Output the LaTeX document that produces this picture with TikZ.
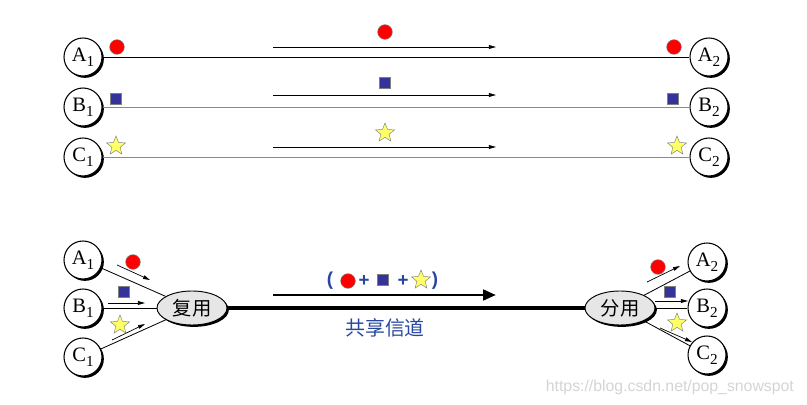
\documentclass[tikz,border=0pt]{standalone}
\usepackage{fontspec}
\setmainfont{Liberation Serif}
\setsansfont{Liberation Sans}
\newfontfamily\cjk{Noto Sans CJK SC}
\usepackage{tikz}
\usetikzlibrary{positioning}
\usetikzlibrary{arrows.meta}
\usetikzlibrary{shapes.geometric}
\usetikzlibrary{shadows}
\usepackage{xcolor}
\definecolor{sqblue}{HTML}{333399}
\definecolor{staryellow}{HTML}{FFFF66}
\definecolor{txtblue}{HTML}{2846A0}
\definecolor{linegray}{HTML}{8A8A8A}
\definecolor{muxgray}{HTML}{E6E6E6}
\newcommand{\hst}[2]{#1\raisebox{-0.5ex}{\fontsize{13}{13}\selectfont #2}}

\begin{document}
\begin{tikzpicture}[x=0.03cm, y=-0.03cm,
  host/.style={draw, circle, line width=0.9pt, fill=white, minimum size=1.14cm, inner sep=0pt,
    font=\fontsize{17.5}{19}\selectfont,
    drop shadow={shadow xshift=1.6pt, shadow yshift=-1.6pt, opacity=1, fill=black}},
  mux/.style={draw, ellipse, line width=0.8pt, fill=muxgray, minimum width=2.1cm, minimum height=1.02cm, inner sep=0pt,
    font=\cjk\fontsize{16.5}{18}\selectfont,
    drop shadow={shadow xshift=1.6pt, shadow yshift=-1.6pt, opacity=1, fill=black}},
  reddot/.style={circle, fill=red, draw=gray, line width=0.4pt, minimum size=0.44cm, inner sep=0pt},
  bluesq/.style={rectangle, fill=sqblue, draw=gray, line width=0.4pt, minimum size=0.34cm, inner sep=0pt},
  ystar/.style={star, star points=5, star point ratio=2.3, fill=staryellow, draw=gray, line width=0.4pt, minimum size=0.6cm, inner sep=0pt},
  link/.style={line width=0.7pt},
  flow/.style={-{Triangle[length=6pt,width=3.2pt]}, line width=0.6pt},
  plus/.style={text=txtblue, font=\sffamily\bfseries\fontsize{16}{18}\selectfont, inner sep=0pt},
]
  \useasboundingbox (0,0) rectangle (807,405);

  % top: one line for each pair
  \node[host] (a1) at (83,57) {\hst{A}{1}};
  \node[host] (b1) at (83,107) {\hst{B}{1}};
  \node[host] (c1) at (83,157) {\hst{C}{1}};
  \node[host] (a2) at (709,57) {\hst{A}{2}};
  \node[host] (b2) at (709,107) {\hst{B}{2}};
  \node[host] (c2) at (709,157) {\hst{C}{2}};
  \draw[link] (a1) -- (a2);
  \draw[link, linegray] (b1) -- (b2);
  \draw[link, linegray] (c1) -- (c2);

  \node[reddot] (ra1) at (117,47) {};
  \node[bluesq] (sb1) at (116,99) {};
  \node[ystar] (tc1) at (116,146) {};
  \node[reddot] (ra) at (385,32) {};
  \node[bluesq] (sb) at (385,83) {};
  \node[ystar] (tc) at (385,133) {};
  \node[reddot] (ra2) at (674,47) {};
  \node[bluesq] (sb2) at (673,99) {};
  \node[ystar] (tc2) at (677,146) {};

  \foreach \y/\n in {47/a, 95/b, 147/c} {
    \coordinate (f\n0) at (273,\y);
    \coordinate (f\n1) at (496,\y);
    \draw[flow] (f\n0) -- (f\n1);
  }

  % bottom: shared channel
  \node[host] (la1) at (83,260) {\hst{A}{1}};
  \node[host] (lb1) at (83,308) {\hst{B}{1}};
  \node[host] (lc1) at (83,357) {\hst{C}{1}};
  \node[mux] (mx) at (192,308) {复用};
  \node[mux] (dmx) at (620,308) {分用};
  \node[host] (la2) at (707,262) {\hst{A}{2}};
  \node[host] (lb2) at (707,308) {\hst{B}{2}};
  \node[host] (lc2) at (707,355) {\hst{C}{2}};

  \draw[link] (la1) -- (mx);
  \draw[link] (lb1) -- (mx);
  \draw[link] (lc1) -- (mx);
  \draw[link] (dmx) -- (la2);
  \draw[link] (dmx) -- (lb2);
  \draw[link] (dmx) -- (lc2);
  \draw[line width=3.4pt] (mx) -- (dmx);

  \coordinate (ia0) at (117,265); \coordinate (ia1) at (150,280);
  \coordinate (ib0) at (108,303); \coordinate (ib1) at (145,303);
  \coordinate (ic0) at (112,340); \coordinate (ic1) at (145,324);
  \coordinate (oa0) at (647,282); \coordinate (oa1) at (680,266);
  \coordinate (ob0) at (655,301); \coordinate (ob1) at (688,301);
  \coordinate (oc0) at (660,328); \coordinate (oc1) at (692,342);
  \draw[flow] (ia0) -- (ia1);
  \draw[flow] (ib0) -- (ib1);
  \draw[flow] (ic0) -- (ic1);
  \draw[flow] (oa0) -- (oa1);
  \draw[flow] (ob0) -- (ob1);
  \draw[flow] (oc0) -- (oc1);

  \node[reddot] (la1m) at (133,262) {};
  \node[bluesq] (lb1m) at (124,292) {};
  \node[ystar] (lc1m) at (120,325) {};
  \node[reddot] (la2m) at (658,267) {};
  \node[bluesq] (lb2m) at (670,292) {};
  \node[ystar] (lc2m) at (677,323) {};

  % mixed signal
  \node[plus] (lp) at (330,281) {(};
  \node[reddot] (pr) at (348,281) {};
  \node[plus] (p1) at (364,281) {+};
  \node[bluesq] (ps) at (383,280) {};
  \node[plus] (p2) at (403,281) {+};
  \node[ystar] (pt) at (421,280) {};
  \node[plus] (rp) at (435,281) {)};
  \coordinate (ch0) at (273,295);
  \coordinate (ch1) at (496,295);
  \draw[line width=2.5pt, -{Triangle[length=11pt,width=9pt]}] (ch0) -- (ch1);
  \node[text=txtblue, font=\cjk\fontsize{17}{19}\selectfont] (chl) at (385,328) {共享信道};

  \node[text=black!17, font=\sffamily\fontsize{13.5}{15}\selectfont, anchor=east] (wm) at (798,387) {https://blog.csdn.net/pop\_snowspot};
\end{tikzpicture}
\end{document}
